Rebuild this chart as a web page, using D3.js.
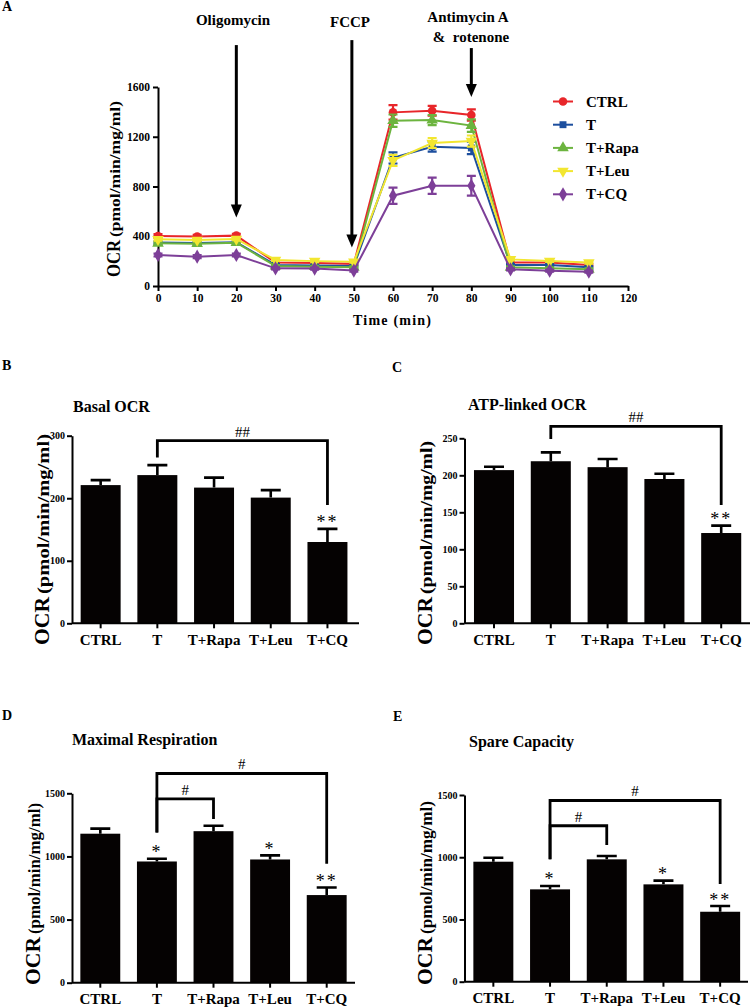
<!DOCTYPE html>
<html>
<head>
<meta charset="utf-8">
<script src="https://cdn.jsdelivr.net/npm/d3@7"></script>
<style>
body { margin: 0; background: #fff; }
svg { display: block; }
text { font-family: "Liberation Serif", "Times New Roman", serif; fill: #000; }
</style>
</head>
<body>
<svg id="fig" width="751" height="1007"></svg>
<script>
// ---- data: seahorse time course (panel A) ----
var times = [0, 10, 20, 30, 40, 50, 60, 70, 80, 90, 100, 110];
var timeTicks = [0, 10, 20, 30, 40, 50, 60, 70, 80, 90, 100, 110, 120];
var ocrTicksA = [0, 400, 800, 1200, 1600];
var groups = ["CTRL", "T", "T+Rapa", "T+Leu", "T+CQ"];

var ocrCTRL = [402, 397, 405, 188, 185, 178, 1396, 1409, 1375, 188, 188, 169];
var ocrT    = [350, 345, 352, 169, 165, 160, 1030, 1120, 1110, 169, 169, 150];
var ocrRapa = [343, 340, 348, 160, 155, 150, 1329, 1334, 1290, 150, 142, 134];
var ocrLeu  = [375, 370, 378, 209, 200, 195, 1010, 1150, 1165, 214, 201, 188];
var ocrCQ   = [249, 236, 249, 142, 140, 124, 726, 806, 806, 134, 123, 115];

var semCTRL = [15, 15, 15, 10, 10, 10, 58, 40, 45, 10, 10, 10];
var semT    = [10, 10, 10, 8, 8, 8, 45, 40, 50, 8, 8, 8];
var semRapa = [10, 10, 10, 8, 8, 8, 50, 40, 50, 8, 8, 8];
var semLeu  = [10, 10, 10, 8, 8, 8, 45, 40, 45, 8, 8, 8];
var semCQ   = [12, 12, 12, 8, 8, 8, 65, 65, 80, 8, 8, 8];

var injectionNames = ["Oligomycin", "FCCP", "Antimycin A"];
var injectionTimes = [20, 49.5, 80];

// ---- data: summary bars (panels B-E) ----
var basalMean = [221, 237, 217, 201, 130];
var basalSem  = [8, 16, 16, 12, 21];
var basalStars = ["", "", "", "", "**"];
var basalTicks = [0, 100, 200, 300];

var atpMean = [207, 219, 211, 195, 122];
var atpSem  = [4.5, 12, 11, 7, 10];
var atpStars = ["", "", "", "", "**"];
var atpTicks = [0, 50, 100, 150, 200, 250];

var maxMean = [1180, 960, 1200, 976, 694];
var maxSem  = [40, 22, 43, 32, 60];
var maxStars = ["", "*", "", "*", "**"];
var maxTicks = [0, 500, 1000, 1500];

var spareMean = [964, 742, 983, 782, 562];
var spareSem  = [32, 27, 27, 30, 46];
var spareStars = ["", "*", "", "*", "**"];
var spareTicks = [0, 500, 1000, 1500];

// ---- styles ----
var seriesColors = ["#e8262a", "#1d4f9e", "#6cb43f", "#f2e630", "#7d3f98"];
var seriesSymbols = [d3.symbolCircle, d3.symbolSquare, d3.symbolTriangle, d3.symbolTriangle, d3.symbolDiamond];
var seriesRotate = [0, 0, 0, 180, 0];

var svg = d3.select("#fig");
var fmt = d3.format("d");

function styleAxis(g, fontSize) {
    g.attr("font-family", null);
    g.selectAll("path, line").attr("stroke", "#000").attr("stroke-width", 2);
    g.selectAll("text").attr("font-size", fontSize).attr("font-weight", "bold").attr("fill", "#000");
}

function yLabel(x, bottom, ocrSize, ocrLen, restSize, restLen) {
    var t = svg.append("text")
        .attr("transform", "translate(" + x + "," + bottom + ") rotate(-90)")
        .attr("font-weight", "bold");
    t.append("tspan").attr("font-size", ocrSize).attr("textLength", ocrLen)
        .attr("lengthAdjust", "spacingAndGlyphs").text("OCR");
    t.append("tspan").attr("dx", 3).attr("font-size", restSize).attr("textLength", restLen)
        .attr("lengthAdjust", "spacingAndGlyphs").text("(pmol/min/mg/ml)");
}

function panelLetter(letter, x, y) {
    svg.append("text").attr("x", x).attr("y", y).attr("font-size", 14)
        .attr("font-weight", "bold").text(letter);
}

// ================= panel A =================
panelLetter("A", 2, 11);
var xA = d3.scaleLinear().domain([0, 120]).range([158, 628]);
var yA = d3.scaleLinear().domain([0, 1600]).range([286, 87]);

var axA = svg.append("g").attr("transform", "translate(0,286)")
    .call(d3.axisBottom(xA).tickValues(timeTicks).tickFormat(fmt).tickSize(5).tickSizeOuter(0).tickPadding(3));
styleAxis(axA, 11.5);
var ayA = svg.append("g").attr("transform", "translate(158,0)")
    .call(d3.axisLeft(yA).tickValues(ocrTicksA).tickFormat(fmt).tickSize(5).tickSizeOuter(0).tickPadding(3));
styleAxis(ayA, 11.5);

svg.append("text").attr("x", 392).attr("y", 325).attr("text-anchor", "middle")
    .attr("font-size", 14).attr("font-weight", "bold")
    .attr("textLength", 78).attr("lengthAdjust", "spacing").text("Time (min)");
yLabel(120, 277, 18, 37, 15, 136);

var seriesMeans = [ocrCTRL, ocrT, ocrRapa, ocrLeu, ocrCQ];
var seriesSems = [semCTRL, semT, semRapa, semLeu, semCQ];

var line = d3.line().x(function(d) { return xA(d[0]); }).y(function(d) { return yA(d[1]); });

seriesMeans.forEach(function(vals, s) {
    var col = seriesColors[s];
    var pts = times.map(function(t, i) { return [t, vals[i], seriesSems[s][i]]; });
    var g = svg.append("g");
    // error bars
    pts.forEach(function(p) {
        var x = xA(p[0]), y1 = yA(p[1] + p[2]), y2 = yA(p[1] - p[2]);
        g.append("path")
            .attr("d", "M" + x + "," + y1 + "V" + y2 + "M" + (x - 4.5) + "," + y1 + "H" + (x + 4.5) +
                "M" + (x - 4.5) + "," + y2 + "H" + (x + 4.5))
            .attr("stroke", col).attr("stroke-width", 2.2).attr("fill", "none");
    });
    g.append("path").datum(pts).attr("d", line)
        .attr("stroke", col).attr("stroke-width", 2).attr("fill", "none");
    g.selectAll("path.sym").data(pts).join("path").attr("class", "sym")
        .attr("d", d3.symbol().type(seriesSymbols[s]).size(s === 1 ? 48 : 58))
        .attr("transform", function(d) {
            return "translate(" + xA(d[0]) + "," + yA(d[1]) + ") rotate(" + seriesRotate[s] + ")";
        })
        .attr("fill", col);
});

// legend
groups.forEach(function(name, s) {
    var y = 101.5 + s * 23.2;
    svg.append("line").attr("x1", 553).attr("x2", 573).attr("y1", y).attr("y2", y)
        .attr("stroke", seriesColors[s]).attr("stroke-width", 2);
    svg.append("path").attr("d", d3.symbol().type(seriesSymbols[s]).size(s === 1 ? 48 : 58))
        .attr("transform", "translate(563," + y + ") rotate(" + seriesRotate[s] + ")")
        .attr("fill", seriesColors[s]);
    svg.append("text").attr("x", 586).attr("y", y + 5).attr("font-size", 15)
        .attr("font-weight", "bold").text(name);
});

// injection arrows
var arrowTop = [1937, 1977, 1913];
var arrowTip = [550, 310, 1520];
injectionTimes.forEach(function(t, i) {
    var x = xA(t), top = yA(arrowTop[i]), tip = yA(arrowTip[i]);
    svg.append("line").attr("x1", x).attr("x2", x).attr("y1", top).attr("y2", tip - 10)
        .attr("stroke", "#000").attr("stroke-width", 3);
    svg.append("path").attr("d", "M" + (x - 5.5) + "," + (tip - 13) + "L" + (x + 5.5) + "," + (tip - 13) + "L" + x + "," + tip + "Z")
        .attr("fill", "#000");
});
svg.append("text").attr("x", 233).attr("y", 25).attr("text-anchor", "middle")
    .attr("font-size", 15).attr("font-weight", "bold").text(injectionNames[0]);
svg.append("text").attr("x", 350).attr("y", 26.5).attr("text-anchor", "middle")
    .attr("font-size", 15).attr("font-weight", "bold").text(injectionNames[1]);
svg.append("text").attr("x", 468).attr("y", 22).attr("text-anchor", "middle")
    .attr("font-size", 15).attr("font-weight", "bold").text(injectionNames[2]);
svg.append("text").attr("x", 471).attr("y", 42).attr("text-anchor", "middle")
    .attr("font-size", 15).attr("font-weight", "bold").style("white-space", "pre").text("&  rotenone");

// ================= bar panels =================
function barPanel(p) {
    var x = d3.scaleBand().domain(groups).range(p.xRange).paddingInner(0.295).paddingOuter(0.1475);
    var y = d3.scaleLinear().domain([0, p.ticks[p.ticks.length - 1]]).range([p.yBase, p.yTop]);
    var cx = function(i) { return x(groups[i]) + x.bandwidth() / 2; };
    var g = svg.append("g");

    panelLetter(p.letter, p.letterX, p.letterY);
    g.append("text").attr("x", p.titleX).attr("y", p.titleY).attr("font-size", 16)
        .attr("font-weight", "bold").text(p.title);

    g.selectAll("rect.bar").data(p.means).join("rect").attr("class", "bar")
        .attr("x", function(d, i) { return x(groups[i]); })
        .attr("y", function(d) { return y(d); })
        .attr("width", x.bandwidth())
        .attr("height", function(d) { return p.yBase - y(d); })
        .attr("fill", "#050202");

    // upper error bars
    p.means.forEach(function(m, i) {
        var top = y(m + p.sems[i]);
        g.append("path").attr("d", "M" + cx(i) + "," + y(m) + "V" + top + "M" + (cx(i) - 10) + "," + top + "H" + (cx(i) + 10))
            .attr("stroke", "#000").attr("stroke-width", 2.6).attr("fill", "none");
        if (p.stars[i]) {
            g.append("text").attr("x", cx(i)).attr("y", top - 0.5).attr("text-anchor", "middle")
                .attr("font-size", 18).attr("letter-spacing", 2).text(p.stars[i]);
        }
    });

    // axes
    var ay = g.append("g").attr("transform", "translate(" + p.axisX + ",0)")
        .call(d3.axisLeft(y).tickValues(p.ticks).tickFormat(fmt).tickSize(5).tickSizeOuter(0).tickPadding(2));
    styleAxis(ay, 10);
    var ax = g.append("g").attr("transform", "translate(0," + p.yBase + ")")
        .call(d3.axisBottom(x).tickSize(5).tickSizeOuter(0).tickPadding(6));
    styleAxis(ax, 15);
    ax.select(".domain").attr("d", "M" + p.axisX + ",0H" + p.axisEnd);

    // significance brackets
    p.brackets.forEach(function(b) {
        var x1 = cx(groups.indexOf(b.from)), x2 = cx(groups.indexOf(b.to));
        g.append("path")
            .attr("d", "M" + x1 + "," + y(b.fromEnd) + "V" + y(b.level) + "H" + x2 + "V" + y(b.toEnd))
            .attr("stroke", "#000").attr("stroke-width", 2.8).attr("fill", "none");
        g.append("text").attr("x", (x1 + x2) / 2).attr("y", y(b.level) - 4).attr("text-anchor", "middle")
            .attr("font-size", 15).text(b.label);
    });

    yLabel(p.labelX, p.labelBottom, 21, 48, 16, p.restLen);
}

barPanel({
    letter: "B", letterX: 2, letterY: 370, title: "Basal OCR", titleX: 73, titleY: 411.5,
    means: basalMean, sems: basalSem, stars: basalStars, ticks: basalTicks,
    xRange: [72.3, 355.8], axisX: 72, axisEnd: 359, yBase: 623.3, yTop: 435.7,
    brackets: [{ from: "T", to: "T+CQ", level: 292, fromEnd: 265, toEnd: 189, label: "##" }],
    labelX: 49, labelBottom: 645, restLen: 160
});

barPanel({
    letter: "C", letterX: 392, letterY: 372, title: "ATP-linked OCR", titleX: 468, titleY: 410,
    means: atpMean, sems: atpSem, stars: atpStars, ticks: atpTicks,
    xRange: [465.6, 749.6], axisX: 464.5, axisEnd: 750, yBase: 623.3, yTop: 438.3,
    brackets: [{ from: "T", to: "T+CQ", level: 266, fromEnd: 249, toEnd: 160, label: "##" }],
    labelX: 432, labelBottom: 645, restLen: 153
});

barPanel({
    letter: "D", letterX: 2, letterY: 720, title: "Maximal Respiration", titleX: 72, titleY: 745,
    means: maxMean, sems: maxSem, stars: maxStars, ticks: maxTicks,
    xRange: [72, 355], axisX: 72, axisEnd: 355, yBase: 982.7, yTop: 793.3,
    brackets: [
        { from: "T", to: "T+CQ", level: 1657, fromEnd: 1190, toEnd: 942, label: "#" },
        { from: "T", to: "T+Rapa", level: 1456, fromEnd: 1190, toEnd: 1297, label: "#" }
    ],
    labelX: 40, labelBottom: 985, restLen: 131
});

barPanel({
    letter: "E", letterX: 393, letterY: 721, title: "Spare Capacity", titleX: 469, titleY: 747,
    means: spareMean, sems: spareSem, stars: spareStars, ticks: spareTicks,
    xRange: [465, 748.5], axisX: 464.5, axisEnd: 748, yBase: 981.7, yTop: 795,
    brackets: [
        { from: "T", to: "T+CQ", level: 1456, fromEnd: 983, toEnd: 785, label: "#" },
        { from: "T", to: "T+Rapa", level: 1253, fromEnd: 983, toEnd: 1098, label: "#" }
    ],
    labelX: 432, labelBottom: 985, restLen: 133
});
</script>
</body>
</html>
